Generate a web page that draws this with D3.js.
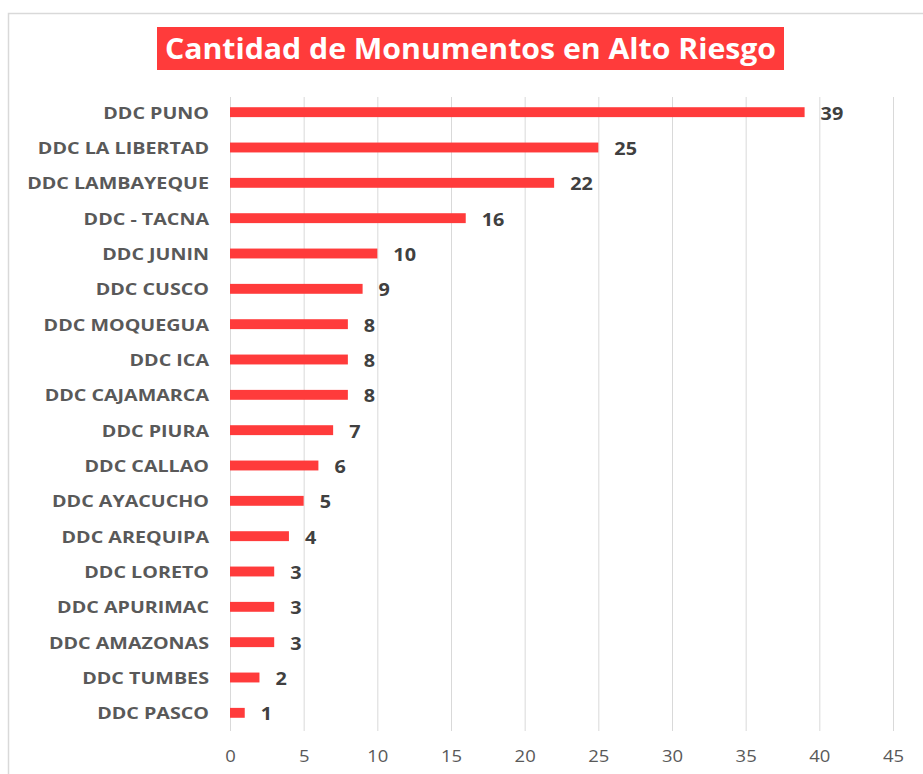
<!DOCTYPE html>
<html>
<head>
<meta charset="utf-8">
<script src="https://cdn.jsdelivr.net/npm/d3@7"></script>
<style>
  body { margin: 0; background: #fff; }
  svg { display: block; }
</style>
</head>
<body>
<svg id="chart" width="923" height="774"></svg>
<script>
const categories = ["DDC PUNO", "DDC LA LIBERTAD", "DDC LAMBAYEQUE", "DDC - TACNA", "DDC JUNIN", "DDC CUSCO", "DDC MOQUEGUA", "DDC ICA", "DDC CAJAMARCA", "DDC PIURA", "DDC CALLAO", "DDC AYACUCHO", "DDC AREQUIPA", "DDC LORETO", "DDC APURIMAC", "DDC AMAZONAS", "DDC TUMBES", "DDC PASCO"];
const values = [39, 25, 22, 16, 10, 9, 8, 8, 8, 7, 6, 5, 4, 3, 3, 3, 2, 1];
const xTicks = [0, 5, 10, 15, 20, 25, 30, 35, 40, 45];
const title = "Cantidad de Monumentos en Alto Riesgo";

const svg = d3.select("#chart");
const RED = "#ff3b3b";
const FONT = "'Open Sans', sans-serif";

// chart border
svg.append("path")
  .attr("d", "M8.5,774 L8.5,13.5 L923,13.5")
  .attr("fill", "none").attr("stroke", "#d9d9d9").attr("stroke-width", 1.5);

// title box
const tb = svg.append("g");
tb.append("rect").attr("x", 157).attr("y", 27).attr("width", 627).attr("height", 43).attr("fill", RED);
tb.append("text").attr("transform", "translate(470.5,58.5) scale(1.08,1)").attr("text-anchor", "middle")
  .attr("fill", "#fff").attr("font-family", FONT).attr("font-weight", 700)
  .attr("font-size", 28).text(title);

const x = d3.scaleLinear().domain([0, 45]).range([230, 893]);
const y = d3.scaleBand().domain(categories).range([94.5, 730.5]).paddingInner(0.72).paddingOuter(0.36);

// grid
svg.append("g").selectAll("line").data(xTicks).join("line")
  .attr("x1", d => x(d) + 0.5).attr("x2", d => x(d) + 0.5)
  .attr("y1", 97).attr("y2", 731)
  .attr("stroke", "#d9d9d9").attr("stroke-width", 1);

// x axis labels
const xAxis = d3.axisBottom(x).tickValues(xTicks).tickSize(0).tickPadding(0);
const gx = svg.append("g").attr("transform", "translate(0,762)").call(xAxis);
gx.select(".domain").remove();
gx.selectAll("text").attr("y", 0).attr("dy", 0).attr("transform", "scale(1.2,1)")
  .attr("font-family", FONT).attr("font-size", 15.4).attr("fill", "#595959");

// y axis labels
const yAxis = d3.axisLeft(y).tickSize(0).tickPadding(0);
const gy = svg.append("g").attr("transform", "translate(209,1.5) scale(1.28,1)").call(yAxis);
gy.select(".domain").remove();
gy.selectAll("text").attr("font-family", FONT).attr("font-size", 15.4).attr("font-weight", 700).attr("fill", "#595959");

// bars
svg.append("g").selectAll("rect").data(categories).join("rect")
  .attr("x", x(0)).attr("y", d => y(d))
  .attr("width", (d, i) => x(values[i]) - x(0))
  .attr("height", y.bandwidth())
  .attr("fill", RED);

// value labels
svg.append("g").selectAll("text").data(categories).join("text")
  .attr("transform", (d, i) => `translate(${x(values[i]) + 16},${y(d) + y.bandwidth() / 2 + 7.5}) scale(1.1,1)`)
  .attr("font-family", FONT).attr("font-size", 18).attr("font-weight", 700).attr("fill", "#404040")
  .text((d, i) => values[i]);
</script>
</body>
</html>
